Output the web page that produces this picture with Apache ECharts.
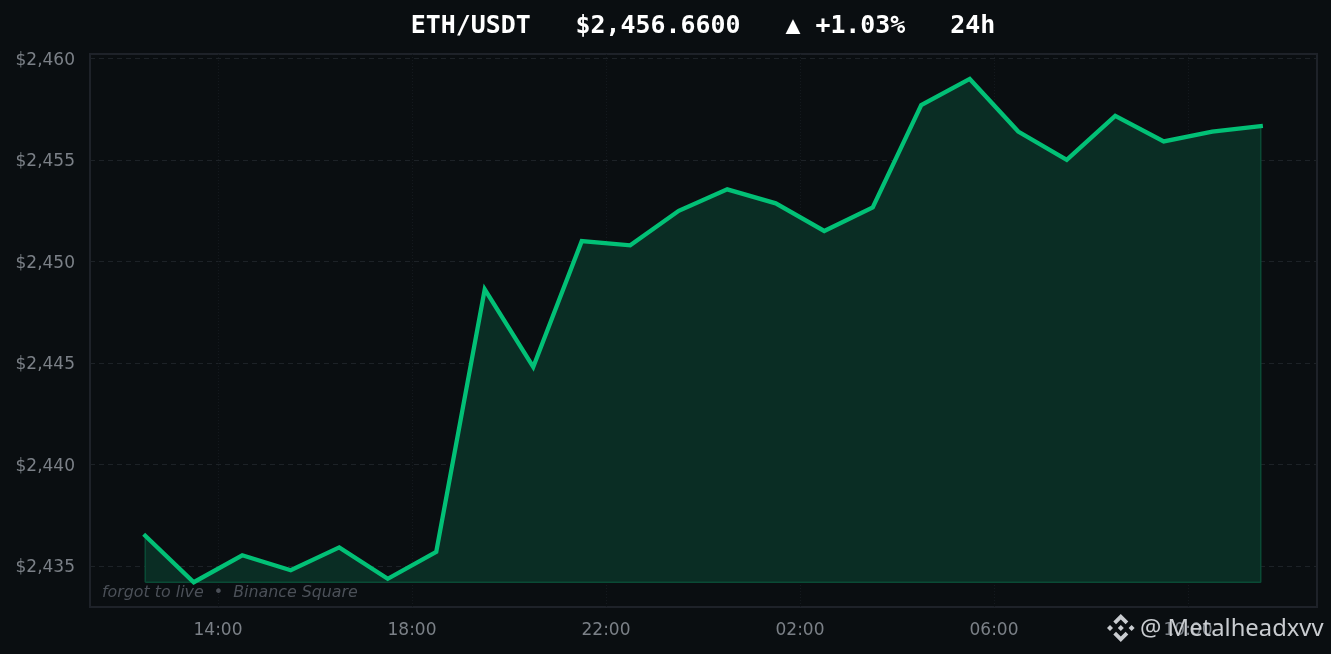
<!DOCTYPE html>
<html><head><meta charset="utf-8">
<style>html,body{margin:0;padding:0;background:#0a0e11}#c{width:1331px;height:654px}</style>
<script src="https://cdn.jsdelivr.net/npm/echarts@6/dist/echarts.min.js"></script>
</head><body><div id="c"></div>
<script>
const hours = [12.5,13.5,14.5,15.5,16.5,17.5,18.5,19.5,20.5,21.5,22.5,23.5,24.5,25.5,26.5,27.5,28.5,29.5,30.5,31.5,32.5,33.5,34.5,35.5];
const prices = [2436.48,2434.19,2435.52,2434.78,2435.91,2434.36,2435.69,2448.62,2444.80,2451.00,2450.79,2452.49,2453.55,2452.86,2451.50,2452.66,2457.70,2458.99,2456.40,2455.00,2457.17,2455.91,2456.40,2456.67];
const yTicks = [2435,2440,2445,2450,2455,2460];
const xTicks = [14,18,22,26,30,34];
const xTickLabels = ['14:00','18:00','22:00','02:00','06:00','10:00'];
const titleText = 'ETH/USDT   $2,456.6600   ▲ +1.03%   24h';
const captionText = 'forgot to live  •  Binance Square';
const watermarkText = '@ Metalheadxvv';

const base = Math.min(...prices);
const pts = hours.map((h,i)=>[h,prices[i]]);
const outline = [[hours[0],base],...pts,[hours[hours.length-1],base],[hours[0],base]];
const chart = echarts.init(document.getElementById('c'),null,{renderer:'canvas'});
const logo = '#c9ccd0';
chart.setOption({
  backgroundColor:'#0a0e11',
  animation:false,
  title:{text:titleText,left:698,top:7,textAlign:'center',textStyle:{fontFamily:'DejaVu Sans Mono',fontWeight:'bold',fontSize:24.9,color:'#ffffff',lineHeight:29}},
  grid:{left:90,right:14,top:54,bottom:47,show:true,backgroundColor:'#0a0e11',borderColor:'#1e2229',borderWidth:2},
  xAxis:{type:'value',min:11.361,max:36.66,
    axisLine:{show:false},axisTick:{show:false,customValues:xTicks},
    axisLabel:{customValues:xTicks,formatter:v=>xTickLabels[xTicks.indexOf(v)],color:'#7b8087',fontFamily:'DejaVu Sans',fontSize:17,margin:15},
    splitLine:{show:true,lineStyle:{color:'#14191e',width:1,type:[1,2]}}},
  yAxis:{type:'value',min:2432.97,max:2460.22,
    axisLine:{show:false},axisTick:{show:false,customValues:yTicks},
    axisLabel:{customValues:yTicks,formatter:v=>'$'+v.toLocaleString('en-US'),color:'#7b8087',fontFamily:'DejaVu Sans',fontSize:17,margin:15,verticalAlign:'top',lineHeight:0,padding:[2,0,0,0]},
    splitLine:{show:true,lineStyle:{color:'#1d2227',width:1,type:[5,4]}}},
  series:[
    {type:'line',data:pts,symbol:'none',silent:true,lineStyle:{width:0},areaStyle:{origin:base,color:'#0a2d24',opacity:1},z:2},
    {type:'line',data:outline,symbol:'none',silent:true,lineStyle:{color:'#0a4a35',width:1.5},z:3},
    {type:'line',data:pts,symbol:'none',silent:true,lineStyle:{color:'#02c076',width:4.3,cap:'square',join:'miter'},z:4}
  ],
  graphic:[
    {type:'text',left:102,top:585,z:10,style:{text:captionText,fontFamily:'DejaVu Sans',fontStyle:'italic',fontSize:15.85,fill:'#4b5058'}},
    {type:'text',left:1140,top:617,z:10,style:{text:watermarkText,fontFamily:'Noto Sans',fontSize:23.8,fill:'#c9ccd0'}},
    {type:'group',left:1107,top:614,z:10,children:[
      {type:'polygon',shape:{points:[[14,0],[21.5,7.5],[18.8,10.2],[14,5.4],[9.2,10.2],[6.5,7.5]]},style:{fill:logo}},
      {type:'polygon',shape:{points:[[14,28],[21.5,20.5],[18.8,17.8],[14,22.6],[9.2,17.8],[6.5,20.5]]},style:{fill:logo}},
      {type:'polygon',shape:{points:[[3.2,11],[6.2,14],[3.2,17],[0.2,14]]},style:{fill:logo}},
      {type:'polygon',shape:{points:[[24.8,11],[27.8,14],[24.8,17],[21.8,14]]},style:{fill:logo}},
      {type:'polygon',shape:{points:[[14,11],[17,14],[14,17],[11,14]]},style:{fill:logo}}
    ]}
  ]
});
</script></body></html>
